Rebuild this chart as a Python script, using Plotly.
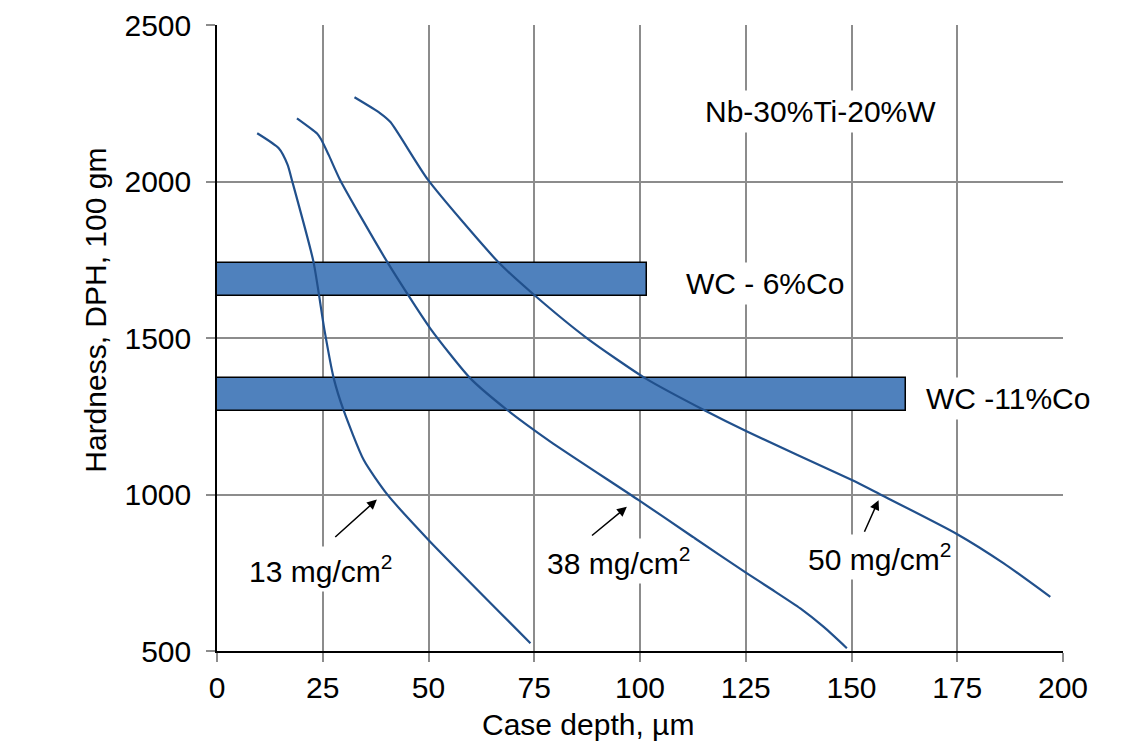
import plotly.graph_objects as go

# ---- data ----
x_13 = [9.5, 14.6, 16.7, 17.7, 22.8, 25.4, 27.6, 29.9, 34.7, 40.2, 50.0, 74.1]
y_13 = [2154, 2106, 2053, 2005, 1744, 1526, 1371, 1270, 1110, 1001, 855, 525]

x_38 = [18.9, 23.6, 24.6, 26.4, 29.1, 40.2, 50.4, 59.9, 68.6, 78.8, 99.7, 112.0, 125.3, 131.0, 137.9, 143.5, 148.9]
y_38 = [2202, 2154, 2135, 2085, 2005, 1744, 1531, 1371, 1270, 1169, 982, 869, 748, 698, 636, 576, 509]

x_50 = [32.5, 38.6, 41.0, 49.9, 66.6, 75.2, 87.5, 101.3, 115.8, 125.3, 150.1, 156.4, 174.9, 186.0, 197.0]
y_50 = [2269, 2218, 2190, 2005, 1741, 1635, 1499, 1371, 1265, 1201, 1046, 1003, 874, 780, 673]

bar_names = ["WC - 6%Co", "WC -11%Co"]
bar_length = [101.7, 163.0]
bar_low = [1635, 1268]
bar_high = [1741, 1371]

x_ticks = [0, 25, 50, 75, 100, 125, 150, 175, 200]
y_ticks = [500, 1000, 1500, 2000, 2500]

curve_labels = ["13 mg/cm<sup>2</sup>", "38 mg/cm<sup>2</sup>", "50 mg/cm<sup>2</sup>"]
label_x = [24.4, 94.9, 156.6]
label_y = [762, 788, 800]
arrow_tail_x = [27.6, 88.3, 152.9]
arrow_tail_y = [860, 865, 876]
arrow_head_x = [37.8, 96.9, 156.4]
arrow_head_y = [984, 961, 982]

bar_label_x = [109.8, 166.5]
bar_label_y = [1675, 1307]

alloy_text = "Nb-30%Ti-20%W"
alloy_x = 142.6
alloy_y = 2223

FONT = "Liberation Sans, Arial, sans-serif"
FS = 30
LINE_COLOR = "#21508C"
GRID = "#8C8C8C"

fig = go.Figure()

# bars
fig.add_trace(go.Bar(
    orientation="h",
    x=bar_length,
    y=[(lo + hi) / 2 for lo, hi in zip(bar_low, bar_high)],
    width=[hi - lo for lo, hi in zip(bar_low, bar_high)],
    base=0,
    marker=dict(color="#4F81BD", line=dict(color="black", width=1.5)),
    showlegend=False,
    hoverinfo="skip",
))

for xs, ys in [(x_13, y_13), (x_38, y_38), (x_50, y_50)]:
    fig.add_trace(go.Scatter(
        x=xs, y=ys, mode="lines",
        line=dict(color=LINE_COLOR, width=2.2, shape="spline", smoothing=0.6),
        showlegend=False, hoverinfo="skip",
    ))

annotations = []
for t, lx, ly in zip(curve_labels, label_x, label_y):
    annotations.append(dict(x=lx, y=ly, xref="x", yref="y", text=t, showarrow=False,
                            font=dict(family=FONT, size=FS, color="black"),
                            bgcolor="white", borderpad=3, xanchor="center", yanchor="middle"))
for tx, ty, hx, hy in zip(arrow_tail_x, arrow_tail_y, arrow_head_x, arrow_head_y):
    annotations.append(dict(x=hx, y=hy, ax=tx, ay=ty, xref="x", yref="y", axref="x", ayref="y",
                            text="", showarrow=True, arrowhead=2, arrowsize=1.3, arrowwidth=1.5,
                            arrowcolor="black"))
for t, lx, ly in zip(bar_names, bar_label_x, bar_label_y):
    annotations.append(dict(x=lx, y=ly, xref="x", yref="y", text=t, showarrow=False,
                            font=dict(family=FONT, size=FS, color="black"),
                            bgcolor="white", borderpad=4, xanchor="left", yanchor="middle"))
annotations.append(dict(x=alloy_x, y=alloy_y, xref="x", yref="y", text=alloy_text, showarrow=False,
                        font=dict(family=FONT, size=FS, color="black"),
                        bgcolor="white", borderpad=4, xanchor="center", yanchor="middle"))
# axis titles
annotations.append(dict(x=0.4385, y=-0.117, xref="paper", yref="paper", text="Case depth, µm",
                        showarrow=False, font=dict(family=FONT, size=FS, color="black"),
                        xanchor="center", yanchor="middle"))
annotations.append(dict(x=-0.1439, y=0.544, xref="paper", yref="paper", text="Hardness, DPH, 100 gm",
                        showarrow=False, textangle=-90, font=dict(family=FONT, size=FS, color="black"),
                        xanchor="center", yanchor="middle"))

fig.update_layout(
    width=1135, height=735, autosize=False,
    margin=dict(l=209, r=80, t=17, b=92, autoexpand=False),
    paper_bgcolor="white", plot_bgcolor="white",
    font=dict(family=FONT, size=FS, color="black"),
    annotations=annotations,
    showlegend=False,
    bargap=0,
)
fig.update_xaxes(
    range=[0, 200], tickvals=x_ticks, ticktext=[str(v) for v in x_ticks],
    showgrid=True, gridcolor=GRID, gridwidth=1.5,
    showline=True, linecolor="black", linewidth=1.5,
    ticks="outside", ticklen=9, tickcolor=GRID, tickwidth=1.5,
    tickfont=dict(family=FONT, size=FS, color="black"),
    zeroline=False, automargin=False,
)
fig.update_yaxes(
    range=[500, 2500], tickvals=y_ticks, ticktext=[str(v) for v in y_ticks],
    showgrid=True, gridcolor=GRID, gridwidth=1.5,
    showline=True, linecolor="black", linewidth=1.5,
    ticks="outside", ticklen=9, tickcolor=GRID, tickwidth=1.5,
    tickfont=dict(family=FONT, size=FS, color="black"),
    ticklabelstandoff=9,
    zeroline=False, automargin=False,
)

fig.write_html("out.html")
